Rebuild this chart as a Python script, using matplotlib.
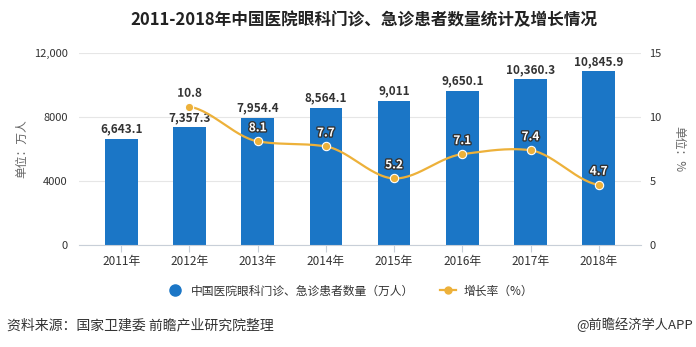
import matplotlib
matplotlib.use("Agg")
import matplotlib.pyplot as plt
import matplotlib.patheffects as pe
from matplotlib.lines import Line2D
import numpy as np

plt.rcParams["font.family"] = ["Noto Sans CJK SC", "DejaVu Sans"]

YEARS = ["2011年", "2012年", "2013年", "2014年", "2015年", "2016年", "2017年", "2018年"]
PATIENTS = [6643.1, 7357.3, 7954.4, 8564.1, 9011, 9650.1, 10360.3, 10845.9]
PATIENT_LABELS = ["6,643.1", "7,357.3", "7,954.4", "8,564.1", "9,011", "9,650.1", "10,360.3", "10,845.9"]
GROWTH = [None, 10.8, 8.1, 7.7, 5.2, 7.1, 7.4, 4.7]
LEFT_TICKS = [0, 4000, 8000, 12000]
LEFT_TICK_LABELS = ["0", "4000", "8000", "12,000"]
RIGHT_TICKS = [0, 5, 10, 15]

BAR_COLOR = "#1b76c6"
LINE_COLOR = "#edb13a"
TEXT = "#333333"


def smooth(xs, ys, n=30):
    """Catmull-Rom spline, only for drawing the curve between points."""
    xs = np.asarray(xs, float)
    ys = np.asarray(ys, float)
    px = np.concatenate([[2 * xs[0] - xs[1]], xs, [2 * xs[-1] - xs[-2]]])
    py = np.concatenate([[ys[0]], ys, [ys[-1]]])
    out_x, out_y = [], []
    for i in range(1, len(px) - 2):
        t = np.linspace(0, 1, n)
        m1 = (py[i + 1] - py[i - 1]) / (px[i + 1] - px[i - 1]) * (px[i + 1] - px[i]) * 0.6
        m2 = (py[i + 2] - py[i]) / (px[i + 2] - px[i]) * (px[i + 1] - px[i]) * 0.6
        h00 = 2 * t**3 - 3 * t**2 + 1
        h10 = t**3 - 2 * t**2 + t
        h01 = -2 * t**3 + 3 * t**2
        h11 = t**3 - t**2
        out_x.append(px[i] + t * (px[i + 1] - px[i]))
        out_y.append(h00 * py[i] + h10 * m1 + h01 * py[i + 1] + h11 * m2)
    return np.concatenate(out_x), np.concatenate(out_y)


fig = plt.figure(figsize=(6.96, 3.47), dpi=100)
ax = fig.add_axes([79 / 696, 1 - 245 / 347, (641 - 79) / 696, (245 - 53) / 347])
ax2 = ax.twinx()

x = np.arange(len(YEARS))
ax.bar(x, PATIENTS, width=0.48, color=BAR_COLOR, zorder=2)
for xi, v, lab in zip(x, PATIENTS, PATIENT_LABELS):
    ax.text(xi, v + 200, lab, ha="center", va="bottom", fontsize=8.5,
            fontweight="bold", color=TEXT, zorder=5)

ax.set_xlim(-0.62, 7.62)
ax.set_ylim(0, 12000)
ax.set_yticks(LEFT_TICKS)
ax.set_yticklabels(LEFT_TICK_LABELS)
ax.set_xticks(x)
ax.set_xticklabels(YEARS)
ax.grid(axis="y", color="#e6e6e6", linewidth=0.8, zorder=0)
for s in ["top", "right", "left"]:
    ax.spines[s].set_visible(False)
ax.spines["bottom"].set_color("#c8cfd8")
ax.tick_params(axis="y", length=0, labelsize=8, labelcolor=TEXT, pad=8)
ax.tick_params(axis="x", length=5, color="#c8cfd8", labelsize=8.5, labelcolor=TEXT, pad=2)

gx = [xi for xi, g in zip(x, GROWTH) if g is not None]
gy = [g for g in GROWTH if g is not None]
sx, sy = smooth(gx, gy)
ax2.plot(sx, sy, color=LINE_COLOR, linewidth=1.6, zorder=3)
ax2.plot(gx, gy, "o", color=LINE_COLOR, markersize=6, markeredgecolor="white",
         markeredgewidth=0.8, zorder=4)
for xi, g in zip(gx, gy):
    if g == 10.8:
        ax2.text(xi, g + 0.55, f"{g}", ha="center", va="bottom", fontsize=8.5,
                 fontweight="bold", color=TEXT, zorder=6,
                 path_effects=[pe.withStroke(linewidth=2, foreground="white")])
    else:
        ax2.text(xi, g + 0.55, f"{g}", ha="center", va="bottom", fontsize=8.5,
                 fontweight="bold", color="white", zorder=6,
                 path_effects=[pe.withStroke(linewidth=2, foreground="#333333")])
ax2.set_ylim(0, 15)
ax2.set_yticks(RIGHT_TICKS)
for s in ["top", "right", "left", "bottom"]:
    ax2.spines[s].set_visible(False)
ax2.tick_params(axis="y", length=0, labelsize=8, labelcolor=TEXT, pad=6)
ax.set_zorder(1)
ax2.set_zorder(2)
ax2.patch.set_visible(False)

fig.text(364 / 696, 1 - 20 / 347, "2011-2018年中国医院眼科门诊、急诊患者数量统计及增长情况",
         ha="center", va="center", fontsize=12, fontweight="bold", color="#222222")
fig.text(22 / 696, 1 - 149 / 347, "单位：万人", rotation=90, ha="center", va="center",
         fontsize=8.5, color="#666666")
fig.text(679 / 696, 1 - 149 / 347, "单位：%", rotation=270, ha="center", va="center",
         fontsize=8.5, color="#666666")

handles = [
    Line2D([0], [0], marker="o", linestyle="none", color=BAR_COLOR, markersize=8),
    Line2D([0], [0], marker="o", color=LINE_COLOR, markersize=5, linewidth=1.6),
]
fig.legend(handles, ["中国医院眼科门诊、急诊患者数量（万人）", "增长率（%）"],
           loc="center", bbox_to_anchor=(350 / 696, 1 - 291 / 347), ncol=2,
           frameon=False, fontsize=8.5, handlelength=1.4, columnspacing=2.2,
           handletextpad=0.6, labelcolor=TEXT)

fig.text(7 / 696, 1 - 325 / 347, "资料来源：国家卫建委 前瞻产业研究院整理",
         ha="left", va="center", fontsize=10, color=TEXT)
fig.text(693 / 696, 1 - 325 / 347, "@前瞻经济学人APP",
         ha="right", va="center", fontsize=9.5, color=TEXT)

fig.savefig("out.png", dpi=100)
